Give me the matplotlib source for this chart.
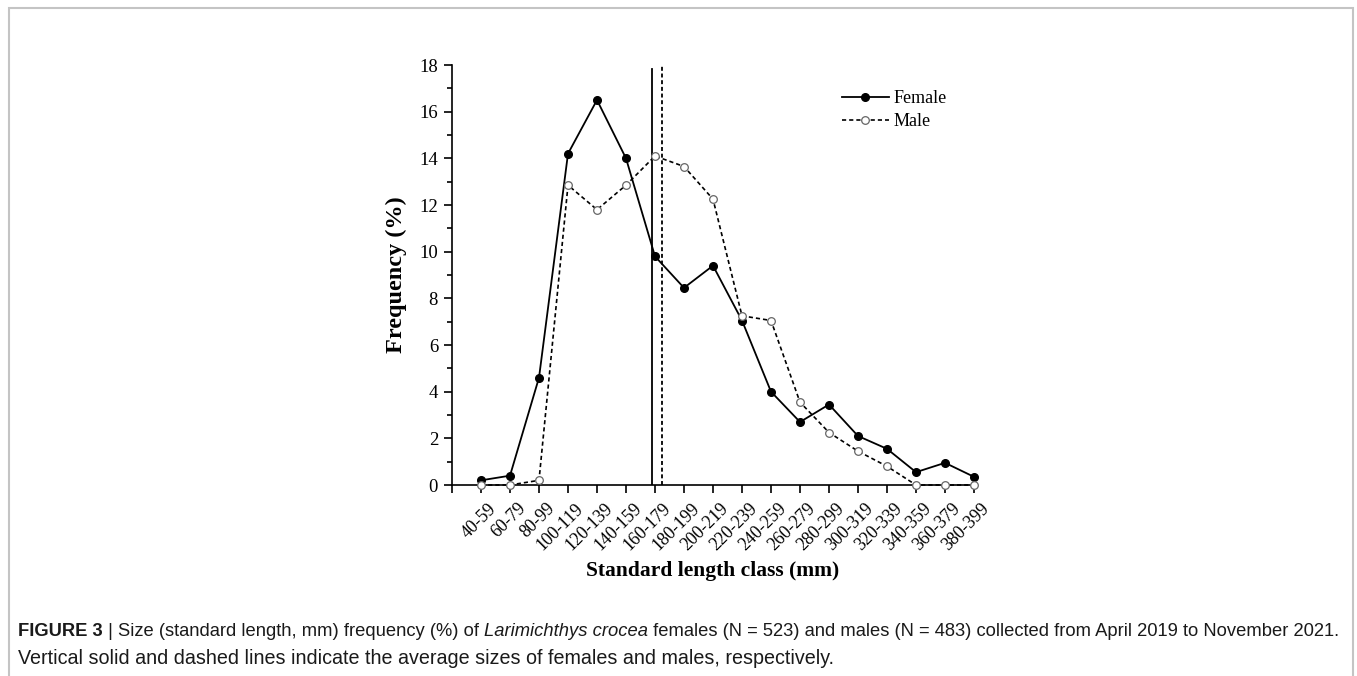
import matplotlib
matplotlib.use("Agg")
import matplotlib.pyplot as plt
import matplotlib.patches as mpatches
import matplotlib.transforms as mtransforms
from matplotlib.ticker import MultipleLocator

# size classes (mm)
classes = ['40-59', '60-79', '80-99', '100-119', '120-139', '140-159', '160-179',
           '180-199', '200-219', '220-239', '240-259', '260-279', '280-299',
           '300-319', '320-339', '340-359', '360-379', '380-399']
female = [0.2, 0.4, 4.6, 14.2, 16.5, 14.0, 9.8, 8.45, 9.4, 7.05, 4.0, 2.7,
          3.45, 2.1, 1.55, 0.55, 0.95, 0.35]
male = [0.0, 0.0, 0.2, 12.85, 11.8, 12.85, 14.1, 13.65, 12.25, 7.25, 7.05,
        3.55, 2.25, 1.45, 0.8, 0.0, 0.0, 0.0]
# average size positions (in class-index units)
mean_female = 5.91
mean_male = 6.23

serif = ['Liberation Serif', 'DejaVu Serif']

fig = plt.figure(figsize=(13.57, 6.76), dpi=100)

# light frame around the figure panel
frame = mpatches.Rectangle((9 / 1357, -0.05), (1353 - 9) / 1357, 1 - 8 / 676 + 0.05,
                           transform=fig.transFigure, fill=False,
                           edgecolor='#c4c4c4', linewidth=1.5)
fig.patches.append(frame)

ax = fig.add_axes([452 / 1357, 1 - 485 / 676, (974 - 452) / 1357, (485 - 65) / 676])
x = list(range(len(classes)))

ax.plot(x, female, '-', color='black', linewidth=1.3, marker='o', markersize=5.5,
        markerfacecolor='black', markeredgecolor='black', label='Female', clip_on=False,
        zorder=4)
ax.plot(x, male, '--', color='black', linewidth=1.2, dashes=(2.5, 1.8), marker='o',
        markersize=5.5, markerfacecolor='white', markeredgecolor='#666666',
        markeredgewidth=0.9, label='Male', clip_on=False, zorder=5)

ax.plot([mean_female, mean_female], [0, 17.85], '-', color='black', linewidth=1.3)
ax.plot([mean_male, mean_male], [0, 18.0], '--', color='black', linewidth=1.3,
        dashes=(2.2, 1.5))

ax.set_xlim(-1, 17)
ax.set_ylim(0, 18)
ax.spines['top'].set_visible(False)
ax.spines['right'].set_visible(False)
ax.spines['left'].set_linewidth(1.2)
ax.spines['bottom'].set_linewidth(1.2)

ax.yaxis.set_major_locator(MultipleLocator(2))
ax.yaxis.set_minor_locator(MultipleLocator(1))
ax.tick_params(axis='y', which='major', direction='out', length=6, width=1.2,
               labelsize=13.5, pad=4)
ax.tick_params(axis='y', which='minor', direction='out', length=3.5, width=1.2)
ax.tick_params(axis='x', which='major', direction='out', length=6, width=1.2,
               labelsize=12.8, pad=2)

ax.set_xticks(range(-1, 18))
ax.set_xticklabels([''] + classes, rotation=45, ha='right', va='top',
                   rotation_mode='anchor')
offset = mtransforms.ScaledTranslation(7 / 100, -4 / 100, fig.dpi_scale_trans)
for lab in ax.get_xticklabels():
    lab.set_transform(lab.get_transform() + offset)
    lab.set_family(serif)
for lab in ax.get_yticklabels():
    lab.set_family(serif)

ax.set_ylabel('Frequency (%)', fontsize=17.5, fontweight='bold', family=serif,
              labelpad=9)
ax.set_xlabel('Standard length class (mm)', fontsize=15.5, fontweight='bold',
              family=serif, labelpad=5)

leg = ax.legend(loc='upper left', bbox_to_anchor=(0.733, 0.958), frameon=False,
                prop={'family': serif, 'size': 13}, handlelength=2.6,
                handletextpad=0.25, labelspacing=0.35, borderaxespad=0)

# caption
cap_color = '#1a1a1a'
sans = ['Liberation Sans', 'DejaVu Sans']
fs = 13.2
t1 = fig.text(18 / 1357, 1 - 631 / 676, 'FIGURE 3', fontsize=fs, fontweight='bold',
              family=sans, color=cap_color, va='center', ha='left')
# chain the pieces so they follow each other on the line
t2 = ax.annotate(' | Size (standard length, mm) frequency (%) of ', xy=(1, 0.5),
                 xycoords=t1, va='center', ha='left', fontsize=fs, family=sans,
                 color=cap_color, annotation_clip=False)
t3 = ax.annotate('Larimichthys crocea', xy=(1, 0.5), xycoords=t2, va='center',
                 ha='left', fontsize=fs, family=sans, style='italic',
                 color=cap_color, annotation_clip=False)
t4 = ax.annotate(' females (N = 523) and males (N = 483) collected from April 2019 '
                 'to November 2021.', xy=(1, 0.5), xycoords=t3, va='center',
                 ha='left', fontsize=fs, family=sans, color=cap_color,
                 annotation_clip=False)
fig.text(18 / 1357, 1 - 658 / 676, 'Vertical solid and dashed lines indicate the '
         'average sizes of females and males, respectively.', fontsize=14.2,
         family=sans, color=cap_color, va='center', ha='left')

fig.savefig('out.png', dpi=100)
